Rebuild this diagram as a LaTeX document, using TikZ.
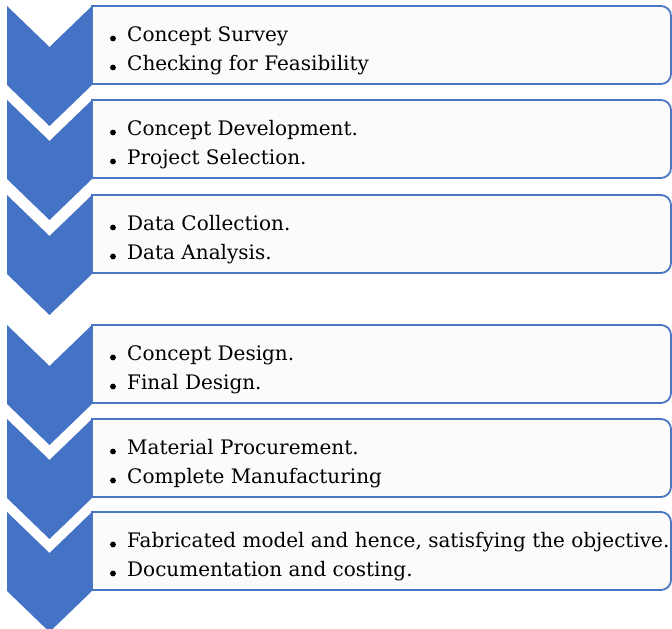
\documentclass[tikz,border=0pt]{standalone}
\usepackage{fontspec}
\setmainfont{DejaVu Serif}
\definecolor{chevblue}{HTML}{4472C4}
\definecolor{boxblue}{HTML}{4A76C6}
\definecolor{boxfill}{HTML}{FBFBFB}
\tikzset{
  chev/.style={fill=chevblue, draw=none},
  stagebox/.style={draw=boxblue, line width=1.8pt, fill=boxfill},
  itemtext/.style={anchor=base west, inner sep=0pt, font=\fontsize{20}{29}\selectfont},
  bulletdot/.style={fill=black, draw=none}
}
\newcommand{\chevron}[1]{%
  \path[chev] (7,-#1) -- (49.5,-#1-41) -- (92,-#1) -- (92,-#1-79) -- (49.5,-#1-120) -- (7,-#1-79) -- cycle;}
\newcommand{\stage}[1]{%
  \path[stagebox] (92,-#1) -- (661,-#1) arc(90:0:10) -- (671,-#1-68) arc(0:-90:10) -- (92,-#1-78) -- cycle;}
\newcommand{\twoitems}[5]{%
  \fill[bulletdot] (113,-#1-32.5) circle (2.9);
  \fill[bulletdot] (113,-#1-61.5) circle (2.9);
  \node[itemtext] (#2) at (127,-#1-35) {#3};
  \node[itemtext] (#4) at (127,-#1-64) {#5};}
\begin{document}
\begin{tikzpicture}[x=1pt,y=1pt]
\useasboundingbox (0,0) rectangle (672,-629);
\chevron{6}\chevron{100}\chevron{195}\chevron{325}\chevron{419}\chevron{512}
\stage{6}\stage{100}\stage{195}\stage{325}\stage{419}\stage{512}
\twoitems{6}{a1}{Concept Survey}{a2}{Checking for Feasibility}
\twoitems{100}{b1}{Concept Development.}{b2}{Project Selection.}
\twoitems{195}{c1}{Data Collection.}{c2}{Data Analysis.}
\twoitems{325}{d1}{Concept Design.}{d2}{Final Design.}
\twoitems{419}{e1}{Material Procurement.}{e2}{Complete Manufacturing}
\twoitems{512}{f1}{Fabricated model and hence, satisfying the objective.}{f2}{Documentation and costing.}
\end{tikzpicture}
\end{document}
